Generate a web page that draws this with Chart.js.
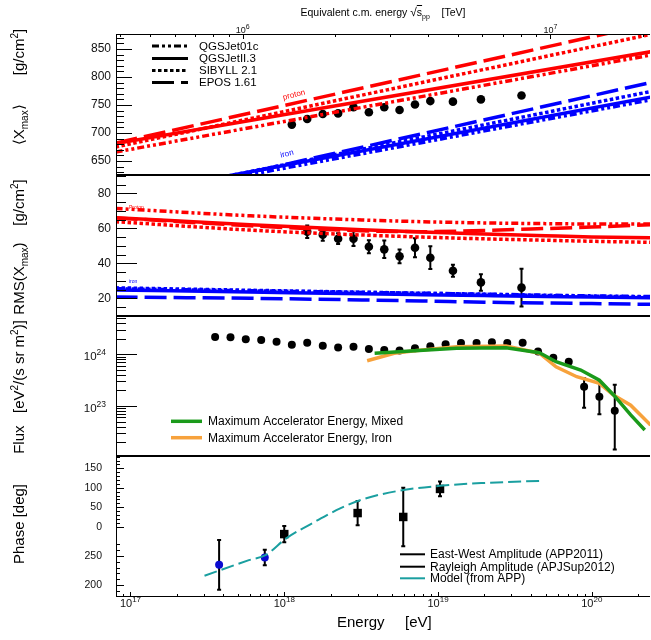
<!DOCTYPE html>
<html><head><meta charset="utf-8">
<script src="https://cdn.jsdelivr.net/npm/chart.js@4.4.1/dist/chart.umd.min.js"></script>
<style>
html,body{margin:0;padding:0;background:#fff;}
body{width:651px;height:640px;position:relative;overflow:hidden;font-family:"Liberation Sans",Arial,sans-serif;color:#000;}
canvas{position:absolute;left:0;}
.yt{position:absolute;white-space:nowrap;font-size:15px;line-height:15px;transform:translate(-50%,-50%) rotate(-90deg);}
.yt sub,.yt sup{font-size:10px;line-height:0;}
.tt{position:absolute;white-space:nowrap;font-size:10.5px;line-height:11px;transform:translateX(-50%);}
.tt sub{font-size:7px;line-height:0;}
</style></head><body>
<canvas id="c1" width="651" height="175" style="top:0"></canvas>
<canvas id="c2" width="651" height="141" style="top:175px"></canvas>
<canvas id="c3" width="651" height="140" style="top:316px"></canvas>
<canvas id="c4" width="651" height="184" style="top:456px"></canvas>
<div class="tt" style="left:383px;top:7px">Equivalent c.m. energy <span style="font-size:12px">√</span><span style="text-decoration:overline">s</span><sub>pp</sub>&nbsp;&nbsp;&nbsp;&nbsp;[TeV]</div>
<div class="yt" style="left:18px;top:87px">⟨X<sub>max</sub>⟩&nbsp;&nbsp;&nbsp;&nbsp;&nbsp;&nbsp;&nbsp;[g/cm<sup>2</sup>]</div>
<div class="yt" style="left:18px;top:247px">RMS(X<sub>max</sub>)&nbsp;&nbsp;&nbsp;&nbsp;[g/cm<sup>2</sup>]</div>
<div class="yt" style="left:18px;top:387px">Flux&nbsp;&nbsp;&nbsp;[eV<sup>2</sup>/(s sr m<sup>2</sup>)]</div>
<div class="yt" style="left:18px;top:524px">Phase [deg]</div>
<script>
// ================= DATA =================
// shared energy axis (eV)
const energyDecades = [1e17, 1e18, 1e19, 1e20];
const energyDecadeExp = ['17', '18', '19', '20'];
const sqrtsDecades = [1e6, 1e7];
const sqrtsDecadeExp = ['6', '7'];
const modelNames = ['QGSJet01c', 'QGSJetII.3', 'SIBYLL 2.1', 'EPOS 1.61'];

// Panel 1: <Xmax> [g/cm2]
const xmaxEnergy = [1.12e18, 1.41e18, 1.78e18, 2.24e18, 2.82e18, 3.55e18, 4.47e18, 5.62e18, 7.08e18, 8.91e18, 1.25e19, 1.90e19, 3.49e19];
const xmaxValue  = [715, 725, 734, 735, 746, 737, 746, 741, 751, 757, 756, 760, 767];
const xmaxTicks  = [650, 700, 750, 800, 850];
const xmaxLineEnergy = [8.0e16, 2.4e20];
const xmaxProtonQGSJet01 = [666, 839];
const xmaxProtonQGSJetII = [681, 845];
const xmaxProtonSIBYLL   = [675, 876];
const xmaxProtonEPOS     = [682, 895];
const xmaxIronQGSJet01   = [581, 759];
const xmaxIronQGSJetII   = [586, 764];
const xmaxIronSIBYLL     = [583, 774];
const xmaxIronEPOS       = [576, 790];

// Panel 2: RMS(Xmax) [g/cm2]
const rmsEnergy = [1.41e18, 1.78e18, 2.24e18, 2.82e18, 3.55e18, 4.47e18, 5.62e18, 7.08e18, 8.91e18, 1.25e19, 1.90e19, 3.49e19];
const rmsValue  = [58.1, 56.4, 54.1, 54.1, 49.5, 48.0, 44.0, 48.9, 43.2, 35.8, 29.1, 26.1];
const rmsError  = [3.6, 3.5, 3.1, 4.2, 3.7, 5.0, 3.9, 5.4, 6.5, 3.4, 4.7, 10.8];
const rmsTicks  = [20, 40, 60, 80];
const rmsLineEnergy = [8.0e16, 6.0e17, 3.2e18, 7.9e18, 2.0e19, 5.0e19, 1.0e20, 2.4e20];
const rmsProtonQGSJet01 = [71.4, 67.2, 64.8, 63.8, 63.1, 62.7, 62.5, 62.5];
const rmsProtonQGSJetII = [66.1, 62.0, 59.2, 57.9, 56.8, 55.8, 55.1, 54.6];
const rmsProtonSIBYLL   = [63.8, 59.0, 56.2, 55.0, 54.0, 53.2, 52.6, 52.0];
const rmsProtonEPOS     = [66.0, 61.5, 58.6, 58.1, 58.8, 59.9, 60.8, 62.0];
const rmsIronQGSJet01   = [25.5, 24.3, 23.4, 22.9, 22.4, 21.8, 21.4, 21.0];
const rmsIronQGSJetII   = [24.8, 23.6, 22.6, 22.1, 21.6, 21.1, 20.7, 20.3];
const rmsIronSIBYLL     = [26.0, 24.6, 23.5, 22.9, 22.3, 21.6, 21.2, 20.8];
const rmsIronEPOS       = [20.8, 20.0, 19.1, 18.5, 17.8, 17.3, 17.0, 16.6];

// Panel 3: Flux E^2 J [eV^2/(s sr m^2)]
const fluxEnergy = [3.55e17, 4.47e17, 5.62e17, 7.08e17, 8.91e17, 1.12e18, 1.41e18, 1.78e18, 2.24e18, 2.82e18, 3.55e18, 4.47e18, 5.62e18, 7.08e18, 8.91e18, 1.12e19, 1.41e19, 1.78e19, 2.24e19, 2.82e19, 3.55e19, 4.47e19, 5.62e19, 7.08e19, 8.91e19, 1.12e20, 1.41e20];
const fluxValue  = [2.16e24, 2.13e24, 1.95e24, 1.89e24, 1.75e24, 1.53e24, 1.68e24, 1.47e24, 1.36e24, 1.40e24, 1.27e24, 1.21e24, 1.19e24, 1.31e24, 1.43e24, 1.56e24, 1.66e24, 1.66e24, 1.71e24, 1.66e24, 1.68e24, 1.14e24, 8.6e23, 7.2e23, 2.36e23, 1.51e23, 8.1e22];
const fluxUpper  = [null, null, null, null, null, null, null, null, null, null, null, null, null, null, null, null, null, null, null, null, null, null, null, null, 3.44e23, 2.95e23, 2.57e23];
const fluxLower  = [null, null, null, null, null, null, null, null, null, null, null, null, null, null, null, null, null, null, null, null, null, null, null, null, 9.3e22, 6.9e22, 1.45e22];
const fluxTicks  = [1e23, 1e24];
const fluxTickExp = ['23', '24'];
const mixedEnergy = [3.87e18, 7.06e18, 1.32e19, 2.77e19, 4.56e19, 5.85e19, 8.47e19, 1.12e20, 1.39e20, 1.79e20, 2.21e20];
const mixedFlux   = [1.05e24, 1.17e24, 1.31e24, 1.34e24, 1.07e24, 7.19e23, 4.97e23, 3.16e23, 1.62e23, 6.76e22, 3.44e22];
const ironEnergy  = [3.46e18, 5.19e18, 7.06e18, 1.32e19, 2.77e19, 4.56e19, 5.85e19, 7.98e19, 1.12e20, 1.39e20, 1.79e20, 2.41e20];
const ironFlux    = [7.52e23, 1.05e24, 1.17e24, 1.40e24, 1.45e24, 1.05e24, 5.75e23, 3.69e23, 2.75e23, 1.62e23, 1.04e23, 4.27e22];
const fluxLegend  = ['Maximum Accelerator Energy, Mixed', 'Maximum Accelerator Energy, Iron'];

// Panel 4: Phase (values in the plotted axis units; tick labels as printed)
const phaseTickValues = [-150, -75, 0, 50, 100, 150];
const phaseTickLabels = ['200', '250', '0', '50', '100', '150'];
const ewEnergy = [1.0e18, 3.0e18, 5.94e18, 1.03e19];
const ewPhase  = [-19, 35, 25, 97];
const ewError  = [21, 31, 75, 19];
const rayEnergy = [3.77e17, 7.47e17];
const rayPhase  = [-98, -79];
const rayError  = [64, 20];
const modelPhaseEnergy = [3.03e17, 5.89e17, 7.55e17, 1.03e18, 1.59e18, 2.31e18, 3.16e18, 5.51e18, 1.03e19, 1.91e19, 4.85e19];
const modelPhase       = [-126, -86, -73, -30, 13, 47, 69, 92, 105, 112, 118];
const phaseLegend = ['East-West Amplitude (APP2011)', 'Rayleigh Amplitude (APJSup2012)', 'Model (from APP)'];

// ================= STYLE / AXES =================
const X_MIN = 8.05e16, X_MAX = 2.39e20;       // energy axis range
const S_MIN = 3.871e5, S_MAX = 2.108e7;       // sqrt(s) axis range (same pixels)
const RED = '#ff0000', BLUE = '#0000ff', TEAL = '#1a9fa0', GREEN = '#1a9a1a', ORANGE = '#f7a23c';
const DASH = { q01: [7, 3, 3, 3, 3, 3], q2: [], sib: [3.5, 2.5], epos: [22, 7] };
const FONT = '"Liberation Sans", Arial, sans-serif';

const pts = (xs, ys) => xs.map((x, i) => ({ x, y: ys[i] }));
const lineDS = (xs, ys, color, dash, width, smooth) => ({
  data: pts(xs, ys), showLine: true, borderColor: color, borderWidth: width, borderDash: dash,
  pointRadius: 0, fill: false, clip: 0, tension: 0, cubicInterpolationMode: smooth ? 'monotone' : 'default'
});
const pointDS = (xs, ys, color, r, style, extra) => Object.assign({
  data: pts(xs, ys), showLine: false, pointRadius: r, pointStyle: style || 'circle',
  pointBackgroundColor: color, pointBorderWidth: 0, borderColor: color, clip: 0
}, extra || {});

function logMinors(lo, hi) { const o = []; for (let e = lo; e <= hi; e++) for (let m = 2; m <= 9; m++) o.push(m * Math.pow(10, e)); return o; }
function linMinors(a, b, step) { const o = []; for (let v = a; v <= b + 1e-9; v += step) o.push(+v.toFixed(6)); return o; }
const noPad = s => { s.paddingTop = 0; s.paddingBottom = 0; s.paddingLeft = 0; s.paddingRight = 0; };

const xScale = (display, h) => ({
  type: 'logarithmic', min: X_MIN, max: X_MAX, bounds: 'data', display,
  afterFit: s => { if (h) s.height = h; noPad(s); },
  ticks: { display: false }, grid: { display: false, drawTicks: false }, border: { display: false }
});
const yScale = (type, min, max, tickVals, size, pad, cb, showLabels) => ({
  type, min, max, bounds: 'data',
  afterFit: s => { s.width = 116; noPad(s); },
  afterBuildTicks: s => { s.ticks = tickVals.map(v => ({ value: v })); },
  grid: { display: false, drawTicks: false }, border: { display: false },
  ticks: { display: showLabels !== false, font: { family: FONT, size }, color: '#111', padding: pad, callback: cb }
});

function drawFrame(chart, sides) {
  const { ctx, chartArea: a } = chart;
  ctx.save(); ctx.strokeStyle = '#000'; ctx.lineWidth = 1; ctx.beginPath();
  if (sides.includes('l')) { ctx.moveTo(a.left + 0.5, a.top); ctx.lineTo(a.left + 0.5, a.bottom); }
  if (sides.includes('t')) { ctx.moveTo(a.left, a.top + 0.5); ctx.lineTo(a.right, a.top + 0.5); }
  if (sides.includes('b')) { ctx.moveTo(a.left, a.bottom - 0.5); ctx.lineTo(a.right, a.bottom - 0.5); }
  ctx.stroke(); ctx.restore();
}
function drawYTicks(chart, majors, minors, majLen, minLen) {
  const { ctx, chartArea: a } = chart; const s = chart.scales.y;
  ctx.save(); ctx.strokeStyle = '#000'; ctx.lineWidth = 1; ctx.beginPath();
  const put = (v, len) => { const p = Math.round(s.getPixelForValue(v)) + 0.5; if (p < a.top || p > a.bottom) return; ctx.moveTo(a.left, p); ctx.lineTo(a.left + len, p); };
  minors.forEach(v => put(v, minLen)); majors.forEach(v => put(v, majLen));
  ctx.stroke(); ctx.restore();
}
function drawXTicks(chart, axis, majors, minors, majLen, minLen, edge) {
  const { ctx, chartArea: a } = chart; const s = chart.scales[axis];
  const y0 = edge === 'top' ? a.top : a.bottom, dir = edge === 'top' ? 1 : -1;
  ctx.save(); ctx.strokeStyle = '#000'; ctx.lineWidth = 1; ctx.beginPath();
  const put = (v, len) => { const p = Math.round(s.getPixelForValue(v)) + 0.5; if (p < a.left || p > a.right) return; ctx.moveTo(p, y0); ctx.lineTo(p, y0 + dir * len); };
  minors.forEach(v => put(v, minLen)); majors.forEach(v => put(v, majLen));
  ctx.stroke(); ctx.restore();
}
function powLabel(ctx, x, y, exp, bs, es, rise, align) {
  ctx.save(); ctx.fillStyle = '#111'; ctx.textAlign = 'left'; ctx.textBaseline = 'alphabetic';
  ctx.font = bs + 'px ' + FONT; const wb = ctx.measureText('10').width;
  ctx.font = es + 'px ' + FONT; const we = ctx.measureText(exp).width;
  const x0 = align === 'right' ? x - wb - we : x - (wb + we) / 2;
  ctx.font = bs + 'px ' + FONT; ctx.fillText('10', x0, y);
  ctx.font = es + 'px ' + FONT; ctx.fillText(exp, x0 + wb, y - rise);
  ctx.restore();
}
function legendLine(ctx, x1, x2, y, color, dash, w) {
  ctx.save(); ctx.strokeStyle = color; ctx.lineWidth = w; ctx.setLineDash(dash); ctx.beginPath();
  ctx.moveTo(x1, y); ctx.lineTo(x2, y); ctx.stroke(); ctx.restore();
}
function text(ctx, s, x, y, size, color, align) {
  ctx.save(); ctx.font = size + 'px ' + FONT; ctx.fillStyle = color; ctx.textAlign = align || 'left'; ctx.textBaseline = 'middle';
  ctx.fillText(s, x, y); ctx.restore();
}
const errorBars = {
  id: 'errorBars',
  beforeDatasetsDraw(chart) {
    const { ctx, scales } = chart;
    chart.data.datasets.forEach(ds => {
      if (!ds.errUpper) return;
      ctx.save(); ctx.strokeStyle = '#000'; ctx.lineWidth = 2;
      ds.data.forEach((p, i) => {
        const hi = ds.errUpper[i], lo = ds.errLower[i];
        if (hi == null || lo == null) return;
        const px = scales.x.getPixelForValue(p.x);
        const y1 = scales.y.getPixelForValue(hi), y2 = scales.y.getPixelForValue(lo);
        ctx.beginPath(); ctx.moveTo(px, y1); ctx.lineTo(px, y2);
        ctx.moveTo(px - 2, y1); ctx.lineTo(px + 2, y1); ctx.moveTo(px - 2, y2); ctx.lineTo(px + 2, y2);
        ctx.stroke();
      });
      ctx.restore();
    });
  }
};
const baseOpts = () => ({ responsive: false, animation: false, events: [],
  layout: { autoPadding: false, padding: { left: 0, right: 1, top: 0, bottom: 0 } },
  plugins: { legend: { display: false }, tooltip: { enabled: false } } });

const energyMinors = logMinors(16, 20);

// ================= PANEL 1 =================
{
  const opts = baseOpts();
  opts.scales = {
    x: xScale(false),
    x2: { type: 'logarithmic', position: 'top', min: S_MIN, max: S_MAX, bounds: 'data', display: true,
          afterFit: s => { s.height = 34; noPad(s); }, ticks: { display: false }, grid: { display: false, drawTicks: false }, border: { display: false } },
    y: yScale('linear', 625, 876.8, xmaxTicks, 12, 5, v => String(v))
  };
  new Chart(document.getElementById('c1'), {
    type: 'scatter',
    data: { datasets: [
      lineDS(xmaxLineEnergy, xmaxProtonQGSJet01, RED, DASH.q01, 3.5),
      lineDS(xmaxLineEnergy, xmaxProtonQGSJetII, RED, DASH.q2, 3.5),
      lineDS(xmaxLineEnergy, xmaxProtonSIBYLL, RED, DASH.sib, 3.5),
      lineDS(xmaxLineEnergy, xmaxProtonEPOS, RED, DASH.epos, 3.5),
      lineDS(xmaxLineEnergy, xmaxIronQGSJet01, BLUE, DASH.q01, 3.5),
      lineDS(xmaxLineEnergy, xmaxIronQGSJetII, BLUE, DASH.q2, 3.5),
      lineDS(xmaxLineEnergy, xmaxIronSIBYLL, BLUE, DASH.sib, 3.5),
      lineDS(xmaxLineEnergy, xmaxIronEPOS, BLUE, DASH.epos, 3.5),
      pointDS(xmaxEnergy, xmaxValue, '#000', 4.3)
    ] },
    options: opts,
    plugins: [{
      id: 'p1',
      afterDraw(chart) {
        const ctx = chart.ctx;
        drawFrame(chart, 'ltb');
        drawYTicks(chart, xmaxTicks, linMinors(630, 870, 10), 16, 8);
        drawXTicks(chart, 'x2', sqrtsDecades, logMinors(5, 7), 5, 3, 'top');
        sqrtsDecades.forEach((v, i) => powLabel(ctx, chart.scales.x2.getPixelForValue(v), 32.5, sqrtsDecadeExp[i], 9, 7, 4, 'center'));
        const dashes = [DASH.q01, DASH.q2, DASH.sib, DASH.epos], ys = [46, 58.5, 70.5, 82.5];
        modelNames.forEach((n, i) => { legendLine(ctx, 152, 188, ys[i], '#000', dashes[i], 3); text(ctx, n, 199, ys[i] + 0.5, 11.5, '#000'); });
        ctx.save(); ctx.translate(294, 95); ctx.rotate(-14 * Math.PI / 180); text(ctx, 'proton', 0, 0, 8, RED, 'center'); ctx.restore();
        ctx.save(); ctx.translate(287, 154); ctx.rotate(-14 * Math.PI / 180); text(ctx, 'iron', 0, 0, 8, BLUE, 'center'); ctx.restore();
      }
    }]
  });
}

// ================= PANEL 2 =================
{
  const opts = baseOpts();
  opts.scales = { x: xScale(false), y: yScale('linear', 9.9, 90.5, rmsTicks, 12, 5, v => String(v)) };
  const rmsPts = pointDS(rmsEnergy, rmsValue, '#000', 4.3, 'circle', {
    errUpper: rmsValue.map((v, i) => v + rmsError[i]), errLower: rmsValue.map((v, i) => v - rmsError[i]) });
  new Chart(document.getElementById('c2'), {
    type: 'scatter',
    data: { datasets: [
      lineDS(rmsLineEnergy, rmsProtonQGSJet01, RED, DASH.q01, 3.5, true),
      lineDS(rmsLineEnergy, rmsProtonSIBYLL, RED, DASH.sib, 3.5, true),
      lineDS(rmsLineEnergy, rmsProtonEPOS, RED, DASH.epos, 3.5, true),
      lineDS(rmsLineEnergy, rmsProtonQGSJetII, RED, DASH.q2, 3.5, true),
      lineDS(rmsLineEnergy, rmsIronQGSJet01, BLUE, DASH.q01, 3.5, true),
      lineDS(rmsLineEnergy, rmsIronSIBYLL, BLUE, DASH.sib, 3.5, true),
      lineDS(rmsLineEnergy, rmsIronQGSJetII, BLUE, DASH.q2, 3.5, true),
      lineDS(rmsLineEnergy, rmsIronEPOS, BLUE, DASH.epos, 3.5, true),
      rmsPts
    ] },
    options: opts,
    plugins: [errorBars, {
      id: 'p2',
      afterDraw(chart) {
        const ctx = chart.ctx;
        drawFrame(chart, 'ltb');
        drawYTicks(chart, rmsTicks, linMinors(15, 90, 5), 21, 10);
        text(ctx, 'Proton', 129, 207.3 - 175, 5, RED);
        text(ctx, 'iron', 129, 281.7 - 175, 5, BLUE);
      }
    }]
  });
}

// ================= PANEL 3 =================
{
  const opts = baseOpts();
  opts.scales = { x: xScale(false), y: yScale('logarithmic', 1.08e22, 5.51e24, fluxTicks, 11, 10, () => '', false) };
  new Chart(document.getElementById('c3'), {
    type: 'scatter',
    data: { datasets: [
      lineDS(mixedEnergy, mixedFlux, GREEN, [], 3.5),
      lineDS(ironEnergy, ironFlux, ORANGE, [], 3.5),
      pointDS(fluxEnergy, fluxValue, '#000', 4, 'circle', { errUpper: fluxUpper, errLower: fluxLower })
    ] },
    options: opts,
    plugins: [errorBars, {
      id: 'p3',
      afterDraw(chart) {
        const ctx = chart.ctx;
        drawFrame(chart, 'ltb');
        drawYTicks(chart, fluxTicks, logMinors(22, 24), 21, 10);
        fluxTicks.forEach((v, i) => powLabel(ctx, 106, chart.scales.y.getPixelForValue(v) + 5.5, fluxTickExp[i], 11.5, 8.5, 4.5, 'right'));
        legendLine(ctx, 171, 202, 105.3, GREEN, [], 3.5);
        legendLine(ctx, 171, 202, 121.7, ORANGE, [], 3.5);
        text(ctx, fluxLegend[0], 208, 105.8, 12, '#000');
        text(ctx, fluxLegend[1], 208, 122.2, 12, '#000');
      }
    }]
  });
}

// ================= PANEL 4 =================
{
  const opts = baseOpts();
  opts.scales = {
    x: xScale(true, 43),
    y: yScale('linear', -180.6, 181.6, phaseTickValues, 10.5, 14, (v) => phaseTickLabels[phaseTickValues.indexOf(v)])
  };
  new Chart(document.getElementById('c4'), {
    type: 'scatter',
    data: { datasets: [
      lineDS(modelPhaseEnergy, modelPhase, TEAL, [13, 5], 2, true),
      pointDS(ewEnergy, ewPhase, '#000', 6, 'rect', {
        errUpper: ewPhase.map((v, i) => v + ewError[i]), errLower: ewPhase.map((v, i) => v - ewError[i]) }),
      pointDS(rayEnergy, rayPhase, '#0a0ad0', 4, 'circle', {
        errUpper: rayPhase.map((v, i) => v + rayError[i]), errLower: rayPhase.map((v, i) => v - rayError[i]) })
    ] },
    options: opts,
    plugins: [errorBars, {
      id: 'p4',
      afterDraw(chart) {
        const ctx = chart.ctx;
        drawFrame(chart, 'ltb');
        const upperMinor = linMinors(0, 180, 10), lowerMinor = linMinors(-165, -45, 15);
        drawYTicks(chart, phaseTickValues, upperMinor.concat(lowerMinor), 8, 4);
        drawXTicks(chart, 'x', energyDecades, energyMinors, 5, 3, 'bottom');
        energyDecades.forEach((v, i) => powLabel(ctx, chart.scales.x.getPixelForValue(v), 150.5, energyDecadeExp[i], 11, 8, 4.5, 'center'));
        text(ctx, 'Energy', 337, 167, 15, '#000');
        text(ctx, '[eV]', 405, 167, 15, '#000');
        legendLine(ctx, 400, 425, 98.3, '#000', [], 2);
        legendLine(ctx, 400, 425, 110.7, '#000', [], 2);
        legendLine(ctx, 400, 425, 122.3, TEAL, [], 2);
        phaseLegend.forEach((s, i) => text(ctx, s, 430, [98.8, 111.2, 122.8][i], 12, '#000'));
      }
    }]
  });
}
</script>
</body></html>
